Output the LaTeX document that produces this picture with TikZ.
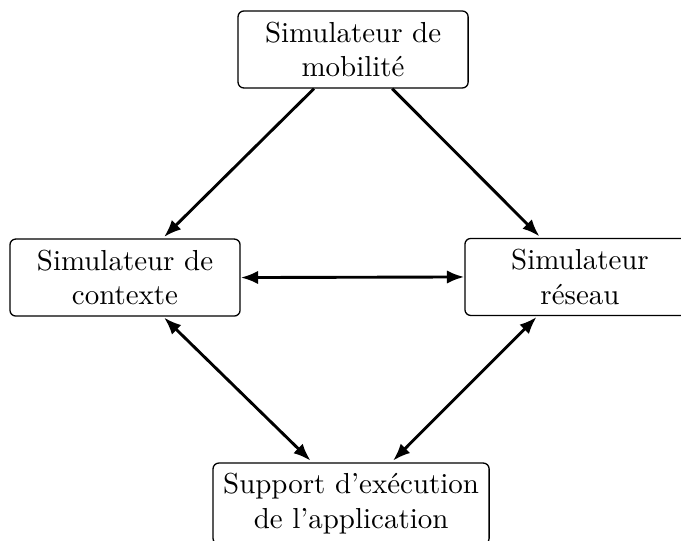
\documentclass[tikz,border=0pt]{standalone}
\usepackage{fontspec}
\usetikzlibrary{arrows.meta,positioning}
\tikzset{
  box/.style={draw, line width=0.45pt, rounded corners=2pt, align=center,
    minimum width=79.5pt, minimum height=26.6pt, inner sep=2pt, font=\normalsize},
  conn/.style={line width=1pt, -{Latex[length=6pt,width=4.6pt]}},
  bconn/.style={line width=1pt, {Latex[length=6pt,width=4.6pt]}-{Latex[length=6pt,width=4.6pt]}}
}
\begin{document}
\begin{tikzpicture}[x=1pt,y=1pt]
\useasboundingbox (0,0) rectangle (235.3,-186.9);
\clip (0,0) rectangle (235.3,-186.9);
\node[box] (mob) at (122.0,-17.1) {Simulateur de\\mobilité};
\node[box] (ctx) at (43.2,-95.9) {Simulateur de\\contexte};
\node[box] (net) at (200.4,-95.7) {Simulateur\\réseau};
\node[box, minimum width=95.4pt, minimum height=28pt] (app) at (121.3,-174.0) {Support d’exécution\\de l’application};
\draw[conn] ([xshift=-13.5pt]mob.south) -- ([xshift=13.5pt,yshift=0.5pt]ctx.north);
\draw[conn] ([xshift=13.5pt]mob.south) -- ([xshift=-14pt,yshift=0.5pt]net.north);
\draw[bconn] (ctx.east) -- (net.west);
\draw[bconn] ([xshift=13.5pt,yshift=-0.3pt]ctx.south) -- ([xshift=-14pt,yshift=0.6pt]app.north);
\draw[bconn] ([xshift=-15pt,yshift=-0.3pt]net.south) -- ([xshift=14.5pt,yshift=0.6pt]app.north);
\end{tikzpicture}
\end{document}
